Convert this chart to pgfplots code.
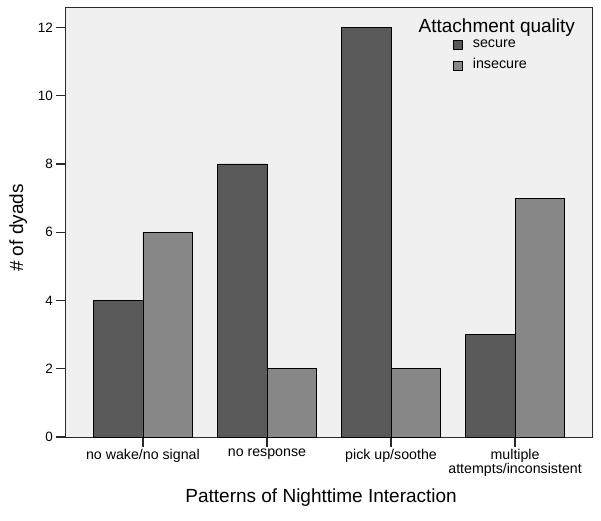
\documentclass[border=0pt]{standalone}
\usepackage{pgfplots}
\pgfplotsset{compat=1.18}
\usepackage{fontspec}
\setmainfont{Liberation Sans}
\definecolor{bgc}{HTML}{F0F0F0}
\definecolor{sec}{HTML}{595959}
\definecolor{insec}{HTML}{878787}
\definecolor{axc}{HTML}{2A2A2A}
\begin{document}
\begin{tikzpicture}
\begin{axis}[
  name=ax,
  scale only axis,
  width=526pt, height=430pt,
  ybar=0pt, bar width=0.4,
  xmin=-0.62, xmax=3.62,
  ymin=0, ymax=12.6,
  xtick={0,1,2,3},
  xticklabels={no wake/no signal, no response, pick up/soothe, {multiple\\attempts/inconsistent}},
  xticklabel style={align=center, font=\fontsize{14.2}{13}\selectfont, inner sep=2pt},
  ytick={0,2,4,6,8,10,12},
  yticklabel style={font=\fontsize{13.5}{14}\selectfont, inner sep=3pt},
  /pgf/number format/assume math mode=true,
  tick align=outside,
  major tick length=10pt,
  xtick pos=bottom, ytick pos=left,
  tick style={axc, line width=1.2pt},
  axis line style={axc, line width=1pt},
  axis background/.style={fill=bgc},
  every axis x label/.style={at={(axis description cs:0.485,-0.142)}, anchor=center},
  every axis y label/.style={at={(axis description cs:-0.091,0.486)}, rotate=90, anchor=center},
  xlabel={\fontsize{19}{20}\selectfont Patterns of Nighttime Interaction},
  ylabel={\fontsize{19}{20}\selectfont \# of dyads},
  legend image code/.code={\draw[#1, draw=black, line width=0.6pt] (0pt,-4.5pt) rectangle (9pt,4.5pt);},
  legend style={at={(axis cs:2.5,11.7)}, anchor=north west, draw=none, fill=none,
    inner sep=0pt, column sep=10pt, row sep=8pt,
    nodes={inner sep=0pt, text height=10pt, text depth=3pt, font=\fontsize{14.3}{15}\selectfont},
    cells={anchor=west}},
]
\addplot[fill=sec, draw=black, line width=0.8pt] coordinates {(0,4) (1,8) (2,12) (3,3)};
\addplot[fill=insec, draw=black, line width=0.8pt] coordinates {(0,6) (1,2) (2,2) (3,7)};
\legend{secure, insecure}
\node[anchor=center, font=\fontsize{19}{20}\selectfont] at (axis description cs:0.819,0.951) {Attachment quality};
\end{axis}
\path ([xshift=-66pt,yshift=-83pt]ax.south west) rectangle ++(601pt,520pt);
\end{tikzpicture}
\end{document}
